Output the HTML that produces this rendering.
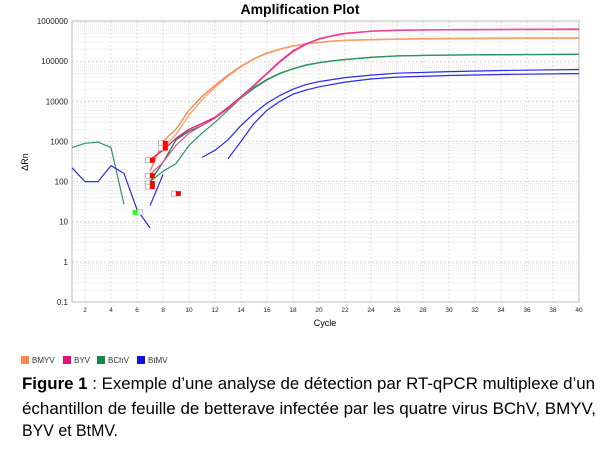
<!DOCTYPE html>
<html><head><meta charset="utf-8"><style>
html,body{margin:0;padding:0;background:#fff;}
svg{display:block;font-family:"Liberation Sans",sans-serif;}
</style></head><body>
<svg id="chart" width="607" height="454" viewBox="0 0 607 454">
<text x="300" y="14" text-anchor="middle" font-size="14" font-weight="bold">Amplification Plot</text>
<g id="grid"></g>
<rect x="72" y="21" width="507" height="281" fill="none" stroke="#bbb" stroke-width="1"/>
<g id="series"></g>
<g id="markers"></g>
<g id="axes" font-size="7.5" fill="#222"></g>
<text x="0" y="0" transform="translate(28,162) rotate(-90)" text-anchor="middle" font-size="9">ΔRn</text>
<text x="325" y="326" text-anchor="middle" font-size="9">Cycle</text>
<g font-size="8" fill="#333">
<g><rect x="21" y="356" width="8" height="8" fill="#f58a4b"/><text x="32" y="363">BMYV</text></g>
<g><rect x="63" y="356" width="8" height="8" fill="#e8137e"/><text x="74" y="363">BYV</text></g>
<g><rect x="97" y="356" width="8" height="8" fill="#16864a"/><text x="108" y="363">BChV</text></g>
<g><rect x="137" y="356" width="8" height="8" fill="#1010e0"/><text x="148" y="363">BtMV</text></g>
</g>
<g font-size="17" fill="#000">
<text x="22" y="389" textLength="573" lengthAdjust="spacingAndGlyphs"><tspan font-weight="bold">Figure 1</tspan> : Exemple d’une analyse de détection par RT-qPCR multiplexe d’un</text>
<text x="22" y="414" textLength="574" lengthAdjust="spacingAndGlyphs">échantillon de feuille de betterave infectée par les quatre virus BChV, BMYV,</text>
<text x="22" y="436" textLength="96" lengthAdjust="spacingAndGlyphs">BYV et BtMV.</text>
</g>
</svg>
<script>
const xTicks=[2,4,6,8,10,12,14,16,18,20,22,24,26,28,30,32,34,36,38,40];
const yTickLabels=["0.1","1","10","100","1000","10000","100000","1000000"];
const yTickValues=[0.1,1,10,100,1000,10000,100000,1000000];
const cyc=[7,8,9,10,11,12,13,14,15,16,17,18,19,20,21,22,24,26,28,30,32,36,40];
const bmyvA=[180,1000,2000,6000,13000,25000,45000,75000,115000,160000,200000,240000,270000,295000,315000,330000,345000,355000,362000,367000,370000,375000,378000];
const bmyvB=[300,700,1500,4500,11000,22000,42000,72000,112000,155000,195000,235000,265000,290000,310000,325000,340000,350000,357000,362000,365000,368000,370000];
const byvA=[350,600,1200,2000,2800,4000,7000,13000,25000,50000,100000,180000,270000,360000,430000,490000,560000,590000,600000,610000,615000,620000,625000];
const byvB=[150,300,800,1600,2500,3800,6500,12500,24000,48000,95000,170000,260000,350000,420000,480000,550000,580000,590000,600000,605000,610000,612000];
const bchvA=[100,300,1100,1800,2500,3800,7000,13000,22000,35000,50000,65000,80000,92000,102000,110000,125000,135000,139000,142000,144000,146000,148000];
const bchvB=[100,180,280,800,1600,3000,6000,12000,21000,34000,49000,64000,79000,91000,101000,109000,124000,134000,138000,141000,143000,145000,147000];
const earlyCyc=[1,2,3,4,5,6,7];
const bchvEarly=[700,900,960,700,27];
const btmvEarly=[220,100,100,250,160,20,7];
const btmvSegCyc=[7,8];
const btmvSeg=[25,150];
const btmvACyc=[11,12,13,14,15,16,17,18,19,20,22,24,26,30,35,40];
const btmvA=[400,600,1100,2500,5000,9000,14000,20000,26000,31000,39000,45000,50000,55000,59000,62000];
const btmvBCyc=[13,14,15,16,17,18,19,20,22,24,26,30,35,40];
const btmvB=[370,1000,2800,6000,10000,15000,19000,23000,30000,36000,40000,44000,47000,49000];
const markerCyc=[7.1,7.1,7.1,7.1,8.1,8.1,9.1];
const markerVal=[340,140,90,75,900,680,50];
const greenMarkerCyc=[5.9];
const greenMarkerVal=[17];

const NS="http://www.w3.org/2000/svg";
const X0=72,X1=579,Y0=21,Y1=302;
function xs(c){return X0+(c-1)*(X1-X0)/39;}
function ys(v){return Y1-(Math.log10(v)+1)*(Y1-Y0)/7;}
function mk(tag,attrs,parent){const e=document.createElementNS(NS,tag);for(const k in attrs)e.setAttribute(k,attrs[k]);parent.appendChild(e);return e;}

const grid=document.getElementById('grid');
for(let d=-1;d<6;d++){for(let m=2;m<=9;m++){const y=ys(m*Math.pow(10,d));
const l=mk('line',{x1:X0,x2:X1,y1:y,y2:y,stroke:'#ddd','stroke-width':0.6,'stroke-dasharray':'1,1'},grid);

}}
yTickValues.forEach(v=>{const y=ys(v);
const l=mk('line',{x1:X0,x2:X1,y1:y,y2:y,stroke:'#ccc','stroke-width':0.7,'stroke-dasharray':'2,2'},grid);

});
xTicks.forEach(c=>{const x=xs(c);
const l=mk('line',{x1:x,x2:x,y1:Y0,y2:Y1,stroke:'#ccc','stroke-width':0.7,'stroke-dasharray':'2,2'},grid);

});

const axes=document.getElementById('axes');
xTicks.forEach(c=>{const t=mk('text',{x:xs(c),y:Y1+10,'text-anchor':'middle','font-size':6.5},axes);t.textContent=c;

});
yTickValues.forEach((v,i)=>{const t=mk('text',{x:X0-4,y:ys(v)+3,'text-anchor':'end','font-size':8},axes);t.textContent=yTickLabels[i];

});

const sg=document.getElementById('series');
function line(cx,vals,color,w,name){const pts=vals.map((v,i)=>xs(cx[i]).toFixed(1)+','+ys(v).toFixed(1)).join(' ');
const p=mk('polyline',{points:pts,fill:'none',stroke:color,'stroke-width':w,'stroke-linejoin':'round'},sg);

}
line(earlyCyc,bchvEarly,'#2e9560',1.2,'bchv-early-line');
line(earlyCyc,btmvEarly,'#2a2ae8',1.2,'btmv-early-line');
line(btmvSegCyc,btmvSeg,'#2a2ae8',1.2,'btmv-segment-line');
line(btmvACyc,btmvA,'#2a2ae8',1.2,'btmv-line-a');
line(btmvBCyc,btmvB,'#2a2ae8',1.2,'btmv-line-b');
line(cyc,bchvA,'#16864a',1.3,'bchv-line-a');
line(cyc,bchvB,'#2e9560',1.2,'bchv-line-b');
line(cyc,bmyvA,'#f58a4b',1.4,'bmyv-line-a');
line(cyc,bmyvB,'#f7a070',1.3,'bmyv-line-b');
line(cyc,byvA,'#e8137e',1.3,'byv-line-a');
line(cyc,byvB,'#ee4a9a',1.2,'byv-line-b');

const mg=document.getElementById('markers');
markerCyc.forEach((c,i)=>{const x=xs(c),y=ys(markerVal[i]);
const g1=mk('rect',{x:x-6,y:y-2.5,width:5,height:5,fill:'#fff',stroke:'#999','stroke-width':0.6},mg);


const r=mk('rect',{x:x-1.5,y:y-2.5,width:5,height:5,fill:'#f00'},mg);

});
greenMarkerCyc.forEach((c,i)=>{const x=xs(c),y=ys(greenMarkerVal[i]);
const g1=mk('rect',{x:x+1.5,y:y-2.5,width:5,height:5,fill:'#fff',stroke:'#999','stroke-width':0.6},mg);


const r=mk('rect',{x:x-3,y:y-2.5,width:5,height:5,fill:'#2f2'},mg);

});
</script>
</body></html>
